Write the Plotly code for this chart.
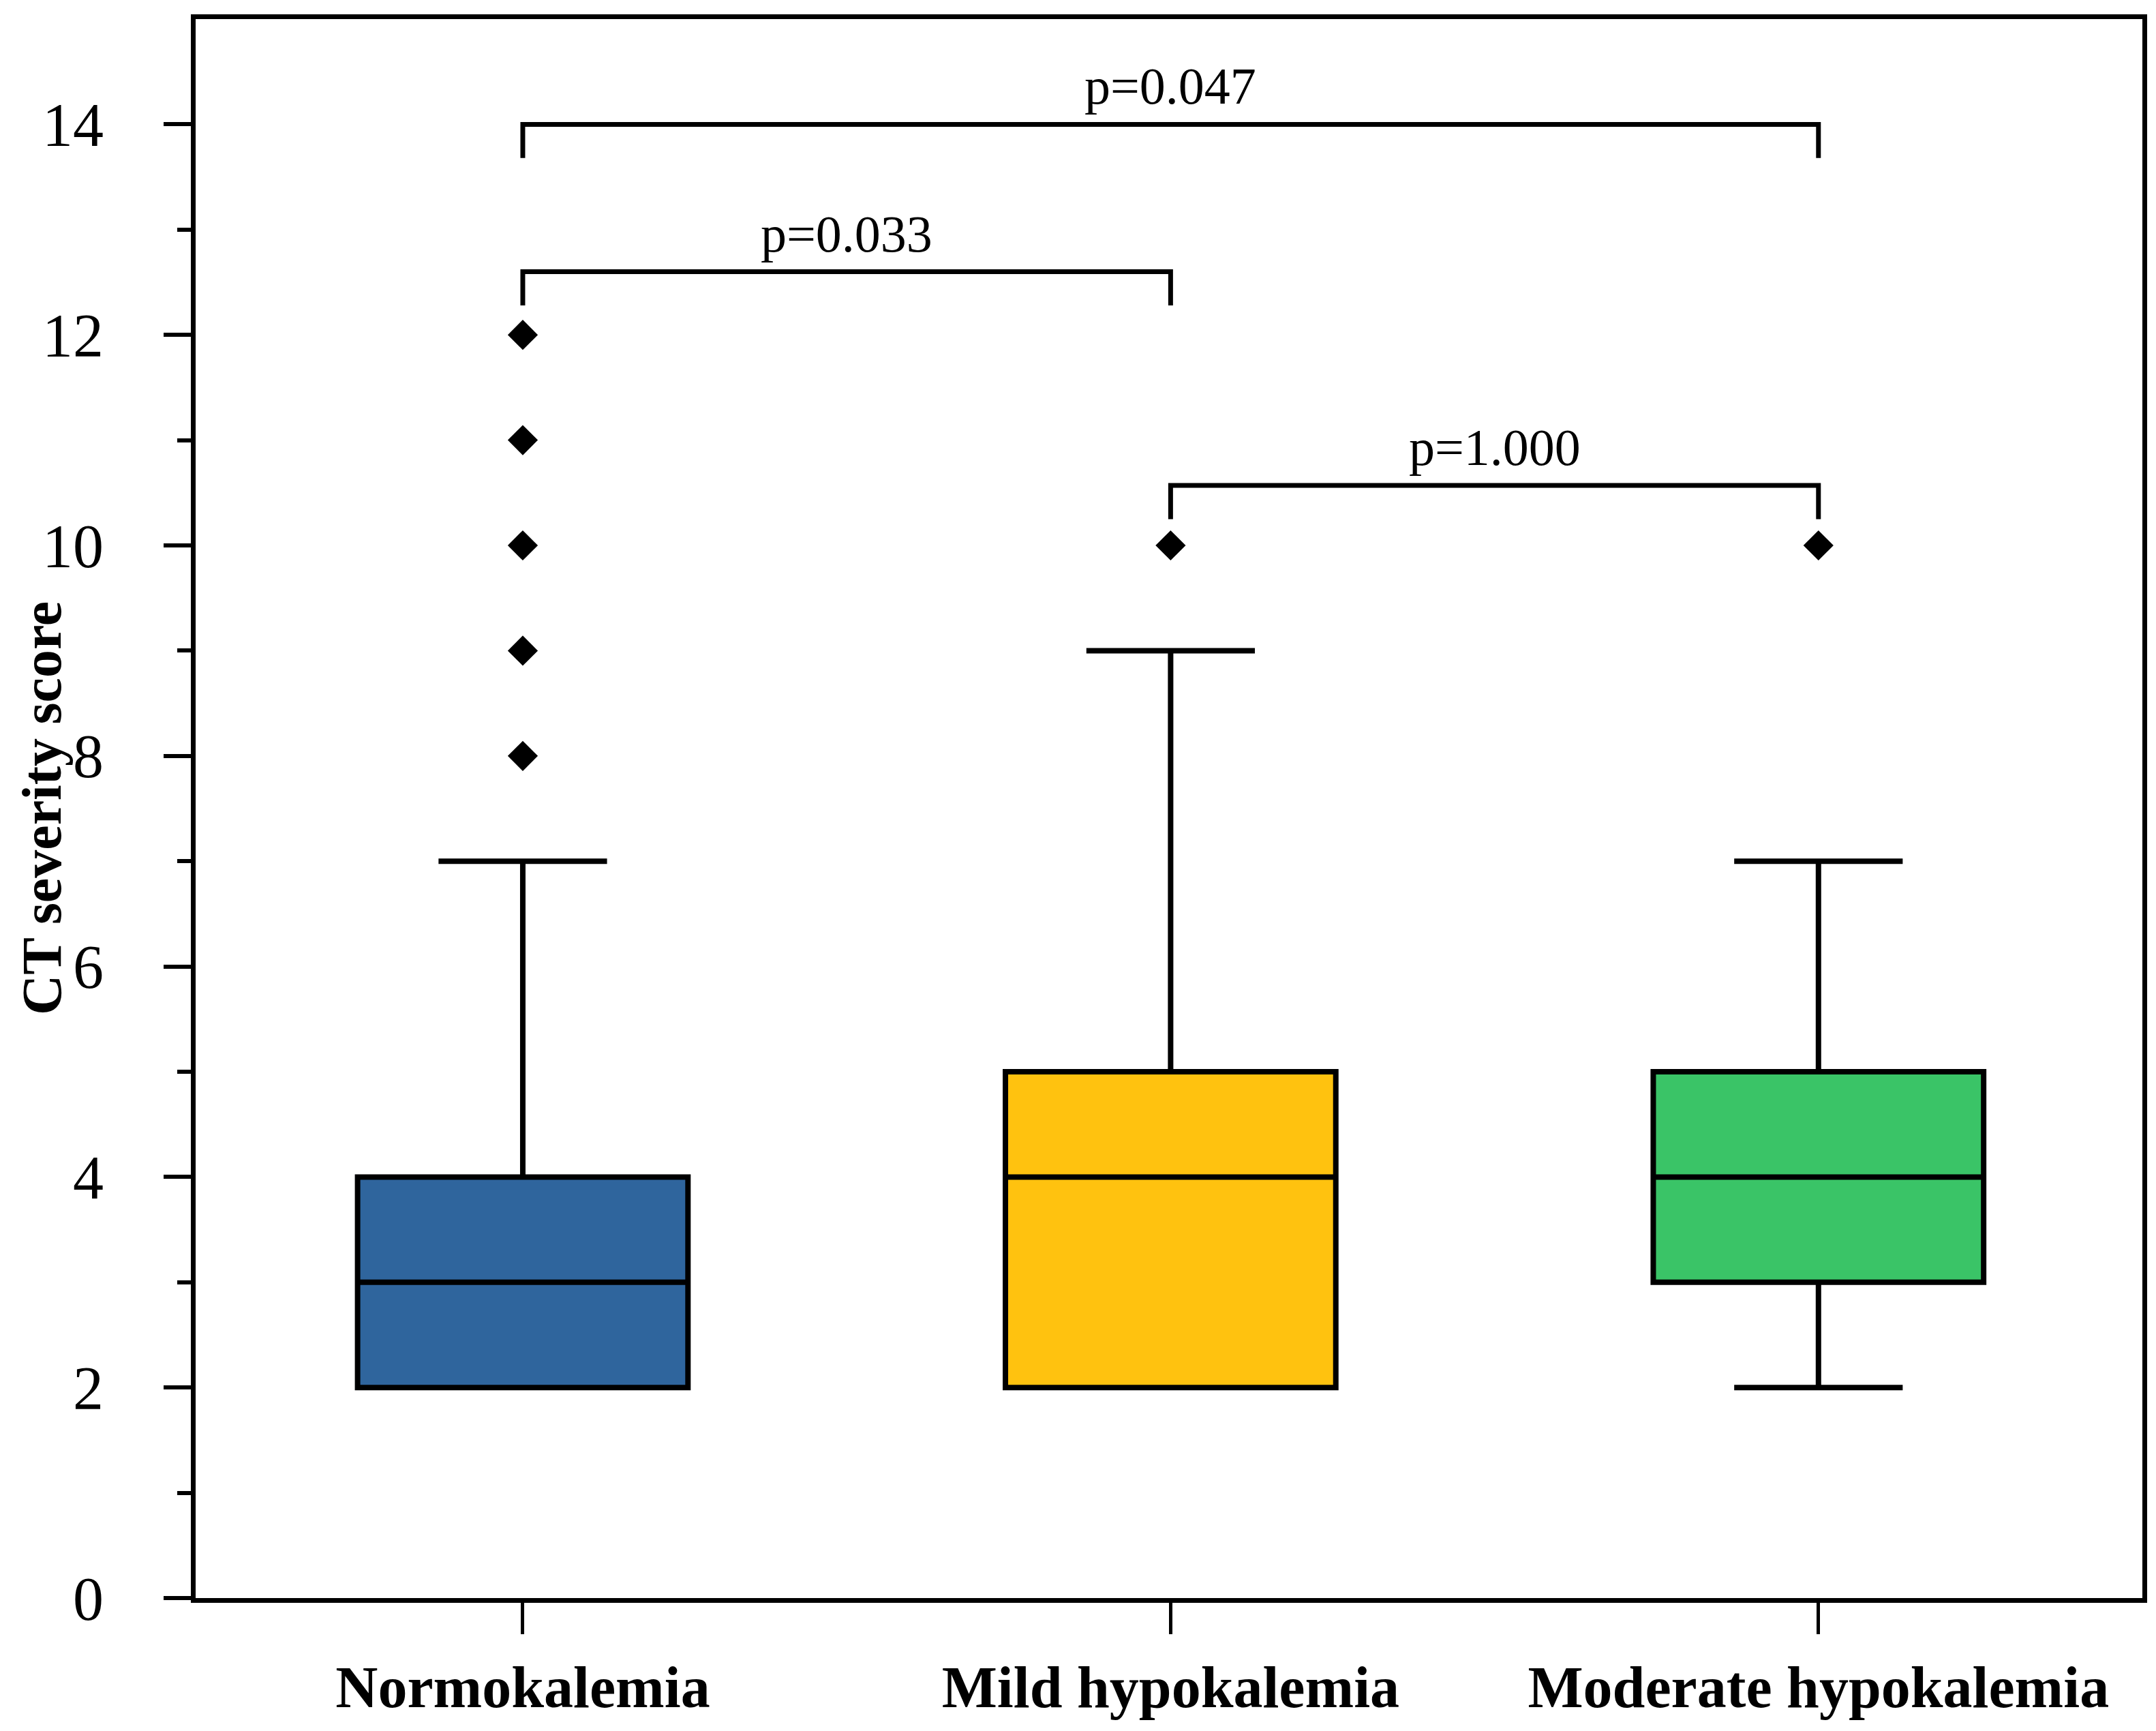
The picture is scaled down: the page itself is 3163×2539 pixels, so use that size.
import plotly.graph_objects as go

# categories and box statistics
categories = ["Normokalemia", "Mild hypokalemia", "Moderate hypokalemia"]
positions = [0, 1, 2]
q1_vals = [2, 2, 3]
median_vals = [3, 4, 4]
q3_vals = [4, 5, 5]
lower_vals = [2, 2, 2]
upper_vals = [7, 9, 7]
box_colors = ["#2F659D", "#FFC20F", "#3AC467"]

# outliers per group
outliers = [[8, 9, 10, 11, 12], [10], [10]]

# significance brackets (start group, end group, height, label)
bracket_start = [0, 0, 1]
bracket_end = [2, 1, 2]
bracket_y = [14.0, 12.6, 10.57]
bracket_labels = ["p=0.047", "p=0.033", "p=1.000"]
bracket_drop = 0.32

serif = "Liberation Serif, Times New Roman, serif"

fig = go.Figure()

for i in range(len(categories)):
    fig.add_trace(go.Box(
        x=[positions[i]],
        q1=[q1_vals[i]],
        median=[median_vals[i]],
        q3=[q3_vals[i]],
        lowerfence=[lower_vals[i]],
        upperfence=[upper_vals[i]],
        width=0.51,
        whiskerwidth=0.51,
        fillcolor=box_colors[i],
        line=dict(color="black", width=8),
        boxpoints=False,
        showlegend=False,
        hoverinfo="skip",
    ))
    # outliers drawn as black diamonds
    fig.add_trace(go.Scatter(
        x=[positions[i]] * len(outliers[i]),
        y=outliers[i],
        mode="markers",
        marker=dict(symbol="diamond", size=34, color="black"),
        showlegend=False,
    ))

# brackets with p-values
for s, e, h, lab in zip(bracket_start, bracket_end, bracket_y, bracket_labels):
    fig.add_trace(go.Scatter(
        x=[positions[s], positions[s], positions[e], positions[e]],
        y=[h - bracket_drop, h, h, h - bracket_drop],
        mode="lines",
        line=dict(color="black", width=7),
        showlegend=False,
    ))
    fig.add_annotation(
        x=(positions[s] + positions[e]) / 2, y=h,
        text=lab, showarrow=False,
        yanchor="bottom", yshift=12,
        font=dict(family=serif, size=76, color="black"),
    )

# y axis title placed in the left margin
fig.add_annotation(
    text="<b>CT severity score</b>", textangle=-90,
    xref="paper", yref="paper", x=0, y=0.5,
    xanchor="center", yanchor="middle", xshift=-226,
    showarrow=False, borderpad=0,
    font=dict(family=serif, size=82, color="black"),
)

fig.update_layout(
    width=3163,
    height=2539,
    margin=dict(l=279, r=28, t=20, b=203),
    plot_bgcolor="white",
    paper_bgcolor="white",
    font=dict(family=serif, color="black"),
)

fig.update_xaxes(
    range=[-0.505, 2.5],
    tickvals=positions,
    ticktext=["<b>" + c + "</b>" for c in categories],
    tickfont=dict(family=serif, size=86, color="black"),
    ticks="outside", ticklen=46, tickwidth=5, tickcolor="black",
    ticklabelstandoff=4,
    showline=True, linecolor="black", linewidth=7, mirror=True,
    showgrid=False, zeroline=False, automargin=False,
)

fig.update_yaxes(
    range=[0, 15],
    tickvals=[0, 2, 4, 6, 8, 10, 12, 14],
    tickfont=dict(family=serif, size=90, color="black"),
    ticks="outside", ticklen=40, tickwidth=6, tickcolor="black",
    ticklabelstandoff=70,
    minor=dict(tickvals=[1, 3, 5, 7, 9, 11, 13], ticks="outside", ticklen=20,
               tickwidth=6, tickcolor="black"),
    showline=True, linecolor="black", linewidth=7, mirror=True,
    showgrid=False, zeroline=False, automargin=False,
)

fig.write_html("out.html")
